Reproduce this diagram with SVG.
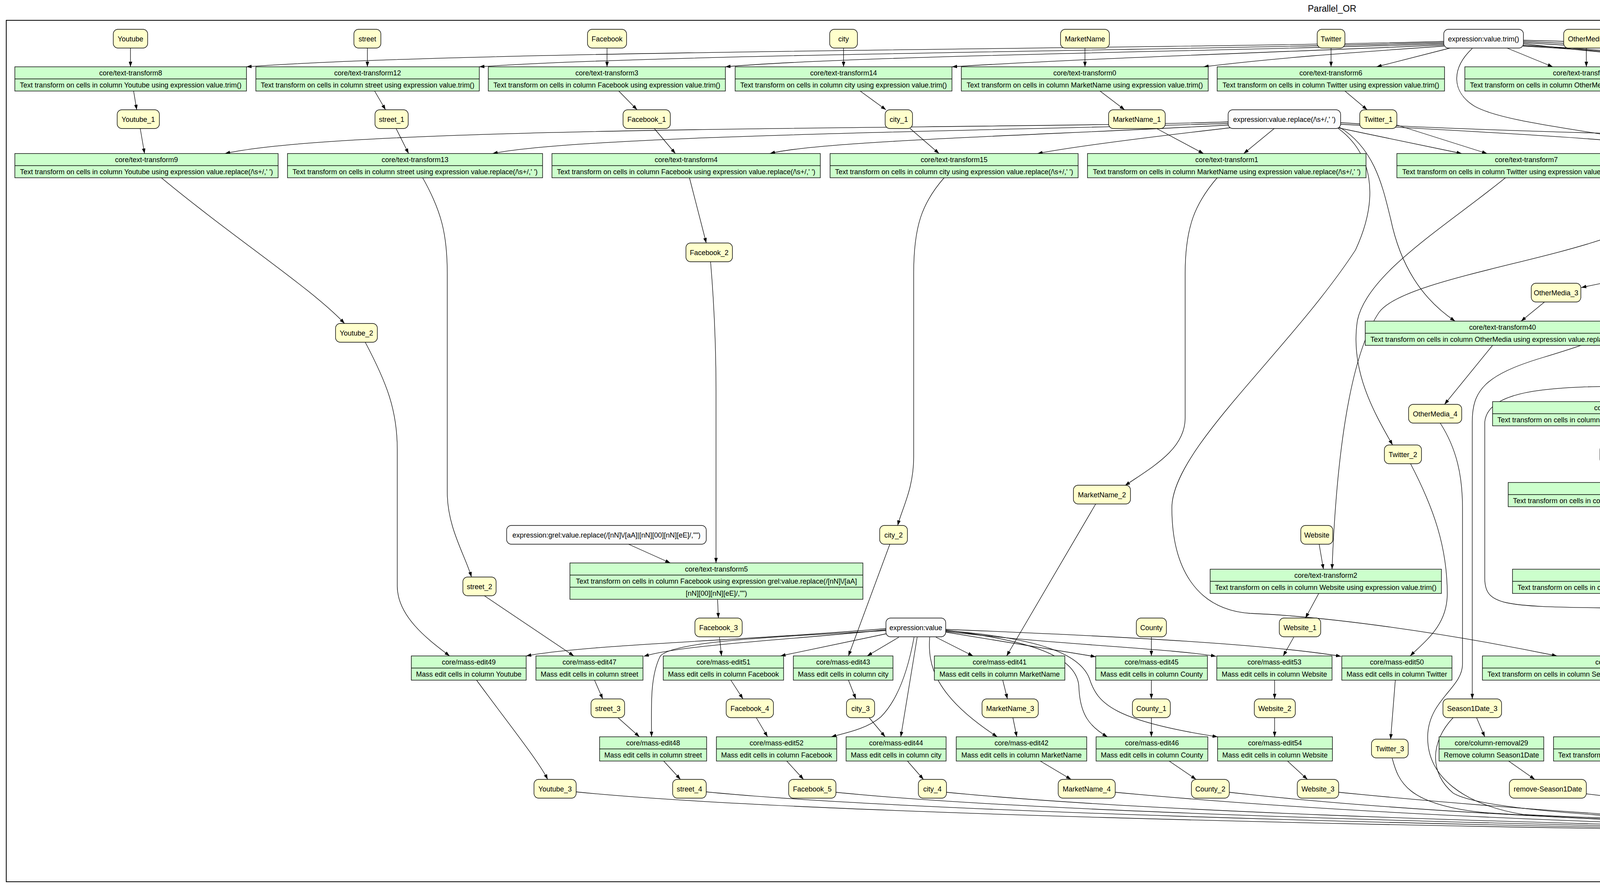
<svg xmlns="http://www.w3.org/2000/svg" width="6820" height="2273" viewBox="0 0 6820 2273">
<style>
text{font-family:"Liberation Sans",Arial,sans-serif;font-size:18px;text-anchor:middle;fill:#000}
.title{font-size:23px}
.y{fill:#ffffcc;stroke:#000;stroke-width:1.4}
.w{fill:#fcfcfc;stroke:#000;stroke-width:1.4}
.g{fill:#ccffcc;stroke:#000;stroke-width:1.4}
.d{stroke:#000;stroke-width:1.4;fill:none}
#edges path{fill:none;stroke:#000;stroke-width:1.3;marker-end:url(#ah)}
</style>
<defs>
<marker id="ah" viewBox="0 0 13 9" refX="13" refY="4.5" markerWidth="13" markerHeight="9" markerUnits="userSpaceOnUse" orient="auto"><path d="M0,0L13,4.5L0,9Z" fill="#000"/></marker>
</defs>
<rect width="6820" height="2273" fill="#fff"/>
<text class="title" x="3410" y="30">Parallel_OR</text>
<rect x="16" y="52" width="6788" height="2205" fill="none" stroke="#000" stroke-width="2"/>
<g id="edges">
<path d="M334,123L334,171"/>
<path d="M940.5,123L940.5,171"/>
<path d="M1554,123L1554,171"/>
<path d="M2159.5,123L2159.5,171"/>
<path d="M2777.5,123L2777.5,171"/>
<path d="M3407.5,123L3407.5,171"/>
<path d="M4061,123L4061,171"/>
<path d="M4768.5,123L4768.5,171"/>
<path d="M5386.5,123L5386.5,171"/>
<path d="M5954.5,123L5954.5,171"/>
<path d="M6514.5,123L6514.5,171"/>
<path d="M3697,106C3000,126 1200,128 631,171"/>
<path d="M3697,109C3000,130 1700,138 1227,171"/>
<path d="M3697,112C3100,132 2200,142 1857,171"/>
<path d="M3697,115C3250,135 2800,148 2437,171"/>
<path d="M3697,118C3450,135 3250,150 3081,171"/>
<path d="M3712,123L3524,171"/>
<path d="M3858,123L3975,171"/>
<path d="M3899,112C4100,135 4350,158 4459,171"/>
<path d="M3899,109C4300,135 4800,150 5110,171"/>
<path d="M3899,106C4500,135 5250,145 5684,171"/>
<path d="M3899,103C4800,128 5800,128 6244,171"/>
<path d="M3899,116C4200,132 4375,150 4390,190C4405,240 4470,290 4650,290C4950,288 5030,340 5010,450C4995,520 4700,570 4580,616"/>
<path d="M3899,118C4200,135 4378,152 4393,195C4410,250 4450,298 4800,300C5000,302 5100,312 5200,325C5400,345 5700,335 5770,360C5810,380 5815,480 5850,560C5920,700 5985,750 5985,900C5985,1060 5980,1110 5850,1135C5400,1220 4700,1330 4323,1457"/>
<path d="M3769,124C3715,175 3715,235 3775,272C3860,320 4150,340 4245,375C4300,400 4285,470 4240,540C4150,650 3600,700 3530,800C3450,920 3420,1200 3410,1457"/>
<path d="M342,233L350,281"/>
<path d="M959,233L987,281"/>
<path d="M1584,233L1631,281"/>
<path d="M2202,233L2268,281"/>
<path d="M2816,233L2879,281"/>
<path d="M3443,233L3500,281"/>
<path d="M4160,233L4335,283"/>
<path d="M4954,233L5332,291"/>
<path d="M5483,233L5680,284"/>
<path d="M6215,233C6450,280 6550,330 6545,450C6540,560 6420,605 6333,632"/>
<path d="M6528,233C6560,320 6572,420 6572,500L6572,1080C6572,1150 6520,1205 6380,1252"/>
<path d="M359,329L370,393"/>
<path d="M1014,329L1046,393"/>
<path d="M1675,329L1729,393"/>
<path d="M2330,329L2404,393"/>
<path d="M2961,329L3081,393"/>
<path d="M3576,320L3807,393"/>
<path d="M4452,329L4579,393"/>
<path d="M5403.5,329L5403.5,393"/>
<path d="M3144,312C2500,332 900,320 576,393"/>
<path d="M3144,316C2600,334 1500,345 1261,393"/>
<path d="M3144,320C2700,345 2100,360 1971,393"/>
<path d="M3150,327C2950,350 2750,375 2656,393"/>
<path d="M3262,329L3184,393"/>
<path d="M3420,326L3742,393"/>
<path d="M3432,318C3800,338 4250,360 4405,393"/>
<path d="M3432,314C3900,345 4700,345 5169,393"/>
<path d="M3428,325C3520,380 3540,480 3560,560C3585,680 3640,765 3725,822"/>
<path d="M3425,328C3510,390 3535,500 3470,640C3300,900 3000,1150 3000,1300C3000,1450 3060,1560 3200,1570C3400,1578 3700,1620 3986,1679"/>
<path d="M413,455C600,610 800,740 882,828"/>
<path d="M1082,455C1130,540 1145,600 1145,700L1145,1260C1145,1350 1190,1420 1207,1477"/>
<path d="M1765,455L1808,622"/>
<path d="M2417,455C2360,520 2339,580 2339,700L2339,1170C2339,1250 2310,1300 2298,1345"/>
<path d="M3116,455C3060,520 3034,580 3034,700L3034,1070C3034,1150 2950,1195 2880,1243"/>
<path d="M3854,455C3700,580 3500,700 3475,820C3455,950 3520,1060 3565,1139"/>
<path d="M4620,455L4578,519"/>
<path d="M5406,455L5409,519"/>
<path d="M5746,318L5996,378"/>
<path d="M6180.5,329L6180.5,378"/>
<path d="M6126,470C6060,560 6034,620 6034,700L6034,1140C6034,1205 5950,1250 5803,1265"/>
<path d="M1819,669C1830,800 1833,900 1833,1000L1833,1441"/>
<path d="M1609,1393L1716,1441"/>
<path d="M1837,1534L1839,1582"/>
<path d="M4535,567L4497,616"/>
<path d="M4329,678L4048,736"/>
<path d="M3954,773L3894,822"/>
<path d="M3821,884L3698,1035"/>
<path d="M4970,567L4974,616"/>
<path d="M5131,567L5038,616"/>
<path d="M5336,560L5125,616"/>
<path d="M4979,678L4983,725"/>
<path d="M5044,678L5153,725"/>
<path d="M4802,677C4500,685 4250,690 4225,760C4210,830 4100,870 3950,915C3800,960 3769,1000 3769,1080L3769,1789"/>
<path d="M5350,567C5200,650 5110,690 5100,760C5090,860 4900,910 4500,922C4380,925 4330,986 4200,988C4000,990 3810,990 3801,1080L3801,1480C3801,1550 3850,1552 4100,1556C4400,1562 4560,1610 4625,1740C4700,1900 4725,2000 4742,2092"/>
<path d="M4459,773L4595,822"/>
<path d="M4709,773L4695,822"/>
<path d="M4921,773L4775,822"/>
<path d="M4541,884L4285,938"/>
<path d="M5245,773L5316,822"/>
<path d="M5452,773L5400,822"/>
<path d="M5708,773L5493,822"/>
<path d="M5289,884L5169,932"/>
<path d="M4195,980L4180,1028"/>
<path d="M4473,980L4285,1028"/>
<path d="M4650,980L4829,1028"/>
<path d="M4677,968L5322,1028"/>
<path d="M5070,980L4989,1028"/>
<path d="M5631.5,980L5631.5,1028"/>
<path d="M4173,1090L4182,1139"/>
<path d="M4902,1090L4854,1139"/>
<path d="M5555,1090L5438,1139"/>
<path d="M4191,1187L4201,1235"/>
<path d="M4563,980C4560,1080 4460,1160 4302,1235"/>
<path d="M4206,1297L4206,1345"/>
<path d="M4206,1393L4206,1457"/>
<path d="M4568,980C4585,1100 4590,1300 4590,1500C4595,1720 4500,1800 4397,1886"/>
<path d="M4203,1519L4197,1582"/>
<path d="M4187,1631L4177,1679"/>
<path d="M4192,1741L4228,1789"/>
<path d="M4266,1837L4299,1886"/>
<path d="M4359,1948L4421,1995"/>
<path d="M4527,2044L4694,2092"/>
<path d="M3377,1393L3388,1457"/>
<path d="M3376,1519L3342,1582"/>
<path d="M2268,1609C1900,1640 1500,1650 1347,1679"/>
<path d="M2268,1612C2000,1640 1750,1650 1648,1680"/>
<path d="M2270,1622L1998,1679"/>
<path d="M2301,1631L2220,1679"/>
<path d="M2268,1614C2000,1630 1720,1640 1690,1680C1665,1730 1667,1800 1668,1886"/>
<path d="M2340,1631C2320,1740 2290,1800 2255,1835C2220,1865 2170,1875 2128,1886"/>
<path d="M2348,1631L2306,1886"/>
<path d="M2396,1631L2491,1679"/>
<path d="M2380,1631C2375,1700 2390,1780 2553,1886"/>
<path d="M2421,1618L2805,1681"/>
<path d="M2421,1613C2640,1640 2760,1680 2762,1760C2765,1830 2790,1860 2835,1886"/>
<path d="M2421,1616C2700,1650 3000,1660 3113,1680"/>
<path d="M2421,1614C2680,1635 2770,1680 2790,1740C2810,1800 2850,1845 3117,1886"/>
<path d="M2421,1611C2900,1630 3250,1650 3433,1680"/>
<path d="M935,876C990,980 1017,1050 1017,1150L1017,1500C1017,1580 1100,1640 1151,1679"/>
<path d="M1240,1525L1469,1679"/>
<path d="M1842,1631L1847,1679"/>
<path d="M2278,1393L2172,1679"/>
<path d="M2805,1290L2577,1679"/>
<path d="M2947.5,1631L2947.5,1679"/>
<path d="M3312,1631L3285,1679"/>
<path d="M3611,1187C3670,1300 3705,1400 3705,1520C3705,1600 3650,1640 3610,1679"/>
<path d="M1220,1741C1300,1850 1380,1950 1402,1995"/>
<path d="M1522,1741L1543,1789"/>
<path d="M1582,1837L1637,1886"/>
<path d="M1699,1948L1742,1995"/>
<path d="M1871,1741L1902,1789"/>
<path d="M1936,1837L1965,1886"/>
<path d="M2014,1948L2057,1995"/>
<path d="M2172,1741L2191,1789"/>
<path d="M2225,1837L2266,1886"/>
<path d="M2323,1948L2364,1995"/>
<path d="M2567,1741L2579,1789"/>
<path d="M2593,1837L2603,1886"/>
<path d="M2663,1948L2742,1995"/>
<path d="M2947.5,1741L2947.5,1789"/>
<path d="M2947.5,1837L2947.5,1886"/>
<path d="M2993,1948L3062,1995"/>
<path d="M3263,1741L3263,1789"/>
<path d="M3263,1837L3263,1886"/>
<path d="M3296,1948L3347,1995"/>
<path d="M3572,1741L3560,1892"/>
<path d="M3780,1837L3801,1886"/>
<path d="M3862,1948L3929,1995"/>
<path d="M5005,1837L5027,1886"/>
<path d="M5036,1948L5029,1995"/>
<path d="M5301,1837L5335,1886"/>
<path d="M5358,1948L5351,1995"/>
<path d="M5621,1837L5657,1886"/>
<path d="M5679,1948L5672,1995"/>
<path d="M5944,1837L5978,1886"/>
<path d="M6001,1948L5994,1995"/>
<path d="M6265,1837L6301,1886"/>
<path d="M6322,1948L6315,1995"/>
<path d="M6588,1837L6621,1886"/>
<path d="M6643,1948L6635,1995"/>
<path d="M4948,1837C4890,1900 4875,1960 4870,2000C4865,2050 4840,2070 4818,2092"/>
<path d="M5257,1837C5200,1930 5215,2015 5130,2055C5040,2090 4960,2096 4913,2098"/>
<path d="M5576,1837C5510,1920 5505,2000 5445,2058C5360,2100 5100,2104 4913,2104"/>
<path d="M5899,1837C5840,1930 5835,2020 5745,2062C5550,2110 5100,2110 4913,2110"/>
<path d="M6219,1837C6160,1930 6155,2030 6050,2070C5800,2115 5200,2116 4913,2116"/>
<path d="M6541,1837C6480,1930 6475,2030 6365,2074C6100,2122 5300,2122 4913,2122"/>
<path d="M4962,2044L4842,2092"/>
<path d="M5246,2038L4915,2093"/>
<path d="M5566,2040C5300,2070 5050,2090 4913,2100"/>
<path d="M5889,2040C5500,2080 5100,2102 4913,2107"/>
<path d="M6209,2040C5800,2085 5200,2110 4913,2113"/>
<path d="M6531,2040C6100,2090 5300,2118 4913,2119"/>
<path d="M1475,2027C2000,2080 3500,2115 4635,2128"/>
<path d="M1808,2027C2300,2075 3600,2112 4635,2126"/>
<path d="M2140,2028C2600,2075 3700,2108 4635,2124"/>
<path d="M2423,2028C2900,2075 3800,2105 4635,2122"/>
<path d="M2855,2028C3300,2070 3900,2102 4635,2120"/>
<path d="M3147,2028C3500,2068 4000,2098 4635,2117"/>
<path d="M3427,2028C3800,2065 4200,2093 4635,2114"/>
<path d="M3564,1941C3580,2000 3600,2060 3800,2080C4100,2100 4400,2108 4635,2111"/>
<path d="M3720,1837C3660,1900 3660,1980 3720,2030C3800,2080 4300,2102 4635,2108"/>
<path d="M3687,1083C3730,1150 3744,1220 3744,1300L3744,1700C3744,1760 3660,1790 3655,1880C3650,1990 3750,2060 3900,2085C4200,2100 4450,2103 4635,2105"/>
<path d="M4061,2032L4635,2100"/>
<path d="M4785,1187C4720,1300 4705,1400 4705,1550C4705,1800 4735,1950 4752,2092"/>
<path d="M5309,1172C5000,1230 4800,1260 4770,1380C4755,1450 4762,1800 4764,2092"/>
<path d="M5732,1269C5400,1300 5000,1290 4850,1330C4790,1360 4778,1450 4778,1550L4776,2092"/>
<path d="M6270,668C6140,730 6078,800 6072,900L6064,1100C6050,1200 5950,1280 5700,1312C5200,1360 4860,1345 4815,1450C4795,1520 4790,1800 4788,2092"/>
<path d="M6310,1272C5800,1350 5300,1400 5000,1450C4830,1480 4805,1550 4802,1700L4800,2092"/>
<path d="M5478,310C5600,320 5740,330 5782,362C5825,395 5830,480 5865,560C5935,700 6008,750 6008,900C6008,1085 5950,1125 5850,1145C5400,1235 4900,1300 4845,1400C4825,1450 4815,1700 4813,2092"/>
<path d="M4773,2140L4773,2188"/>
</g>
<g id="n-Youtube"><rect class="y" rx="12" x="290" y="75" width="88" height="48"/><text x="334" y="105.5">Youtube</text></g>
<g id="n-street"><rect class="y" rx="12" x="906" y="75" width="69" height="48"/><text x="940.5" y="105.5">street</text></g>
<g id="n-Facebook"><rect class="y" rx="12" x="1504" y="75" width="100" height="48"/><text x="1554" y="105.5">Facebook</text></g>
<g id="n-city"><rect class="y" rx="12" x="2124" y="75" width="71" height="48"/><text x="2159.5" y="105.5">city</text></g>
<g id="n-MarketName"><rect class="y" rx="12" x="2715" y="75" width="125" height="48"/><text x="2777.5" y="105.5">MarketName</text></g>
<g id="n-Twitter"><rect class="y" rx="12" x="3372" y="75" width="71" height="48"/><text x="3407.5" y="105.5">Twitter</text></g>
<g id="n-exprTrim"><rect class="w" rx="12" x="3696" y="75" width="204" height="48"/><text x="3798" y="105.5">expression:value.trim()</text></g>
<g id="n-OtherMedia"><rect class="y" rx="12" x="4003" y="75" width="116" height="48"/><text x="4061" y="105.5">OtherMedia</text></g>
<g id="n-Season1Date"><rect class="y" rx="12" x="4704" y="75" width="129" height="48"/><text x="4768.5" y="105.5">Season1Date</text></g>
<g id="n-zip"><rect class="y" rx="12" x="5351" y="75" width="71" height="48"/><text x="5386.5" y="105.5">zip</text></g>
<g id="n-y"><rect class="y" rx="12" x="5919" y="75" width="71" height="48"/><text x="5954.5" y="105.5">y</text></g>
<g id="n-x"><rect class="y" rx="12" x="6479" y="75" width="71" height="48"/><text x="6514.5" y="105.5">x</text></g>
<g id="n-t8"><rect class="g" x="38" y="171" width="593" height="62"/><path class="d" d="M38,202H631"/><text x="334.5" y="193">core/text-transform8</text><text x="334.5" y="224">Text transform on cells in column Youtube using expression value.trim()</text></g>
<g id="n-t12"><rect class="g" x="655" y="171" width="572" height="62"/><path class="d" d="M655,202H1227"/><text x="941" y="193">core/text-transform12</text><text x="941" y="224">Text transform on cells in column street using expression value.trim()</text></g>
<g id="n-t3"><rect class="g" x="1250" y="171" width="607" height="62"/><path class="d" d="M1250,202H1857"/><text x="1553.5" y="193">core/text-transform3</text><text x="1553.5" y="224">Text transform on cells in column Facebook using expression value.trim()</text></g>
<g id="n-t14"><rect class="g" x="1882" y="171" width="555" height="62"/><path class="d" d="M1882,202H2437"/><text x="2159.5" y="193">core/text-transform14</text><text x="2159.5" y="224">Text transform on cells in column city using expression value.trim()</text></g>
<g id="n-t0"><rect class="g" x="2461" y="171" width="632" height="62"/><path class="d" d="M2461,202H3093"/><text x="2777" y="193">core/text-transform0</text><text x="2777" y="224">Text transform on cells in column MarketName using expression value.trim()</text></g>
<g id="n-t6"><rect class="g" x="3116" y="171" width="582" height="62"/><path class="d" d="M3116,202H3698"/><text x="3407" y="193">core/text-transform6</text><text x="3407" y="224">Text transform on cells in column Twitter using expression value.trim()</text></g>
<g id="n-t10"><rect class="g" x="3750" y="171" width="622" height="62"/><path class="d" d="M3750,202H4372"/><text x="4061" y="193">core/text-transform10</text><text x="4061" y="224">Text transform on cells in column OtherMedia using expression value.trim()</text></g>
<g id="n-t18"><rect class="g" x="4451" y="171" width="636" height="62"/><path class="d" d="M4451,202H5087"/><text x="4769" y="193">core/text-transform18</text><text x="4769" y="224">Text transform on cells in column Season1Date using expression value.trim()</text></g>
<g id="n-t16"><rect class="g" x="5112" y="171" width="549" height="62"/><path class="d" d="M5112,202H5661"/><text x="5386.5" y="193">core/text-transform16</text><text x="5386.5" y="224">Text transform on cells in column zip using expression value.trim()</text></g>
<g id="n-t37"><rect class="g" x="5686" y="171" width="536" height="62"/><path class="d" d="M5686,202H6222"/><text x="5954" y="193">core/text-transform37</text><text x="5954" y="224">Text transform on cells in column y using expression value.trim()</text></g>
<g id="n-t36"><rect class="g" x="6246" y="171" width="536" height="62"/><path class="d" d="M6246,202H6782"/><text x="6514" y="193">core/text-transform36</text><text x="6514" y="224">Text transform on cells in column x using expression value.trim()</text></g>
<g id="n-Youtube_1"><rect class="y" rx="12" x="300" y="281" width="108" height="48"/><text x="354" y="311.5">Youtube_1</text></g>
<g id="n-street_1"><rect class="y" rx="12" x="960" y="281" width="85" height="48"/><text x="1002.5" y="311.5">street_1</text></g>
<g id="n-Facebook_1"><rect class="y" rx="12" x="1595" y="281" width="121" height="48"/><text x="1655.5" y="311.5">Facebook_1</text></g>
<g id="n-city_1"><rect class="y" rx="12" x="2266" y="281" width="70" height="48"/><text x="2301" y="311.5">city_1</text></g>
<g id="n-MarketName_1"><rect class="y" rx="12" x="2838" y="281" width="145" height="48"/><text x="2910.5" y="311.5">MarketName_1</text></g>
<g id="n-exprReplace"><rect class="w" rx="12" x="3144" y="281" width="288" height="48"/><text x="3288" y="311.5">expression:value.replace(/\s+/,' ')</text></g>
<g id="n-Twitter_1"><rect class="y" rx="12" x="3481" y="281" width="95" height="48"/><text x="3528.5" y="311.5">Twitter_1</text></g>
<g id="n-OtherMedia_1"><rect class="y" rx="12" x="4333" y="281" width="138" height="48"/><text x="4402" y="311.5">OtherMedia_1</text></g>
<g id="n-Season1Date_1"><rect class="y" rx="12" x="5329" y="281" width="149" height="48"/><text x="5403.5" y="311.5">Season1Date_1</text></g>
<g id="n-zip_1"><rect class="y" rx="12" x="5676" y="281" width="70" height="48"/><text x="5711" y="311.5">zip_1</text></g>
<g id="n-grelZip"><rect class="w" rx="12" x="5943" y="281" width="475" height="48"/><text x="6180.5" y="311.5">expression:grel:value.replace(/^\d{1,4}$|^\d{5}-\d{5,}$/,"")</text></g>
<g id="n-t9"><rect class="g" x="38" y="393" width="674" height="62"/><path class="d" d="M38,424H712"/><text x="375" y="415">core/text-transform9</text><text x="375" y="446">Text transform on cells in column Youtube using expression value.replace(/\s+/,' ')</text></g>
<g id="n-t13"><rect class="g" x="736" y="393" width="653" height="62"/><path class="d" d="M736,424H1389"/><text x="1062.5" y="415">core/text-transform13</text><text x="1062.5" y="446">Text transform on cells in column street using expression value.replace(/\s+/,' ')</text></g>
<g id="n-t4"><rect class="g" x="1413" y="393" width="687" height="62"/><path class="d" d="M1413,424H2100"/><text x="1756.5" y="415">core/text-transform4</text><text x="1756.5" y="446">Text transform on cells in column Facebook using expression value.replace(/\s+/,' ')</text></g>
<g id="n-t15"><rect class="g" x="2125" y="393" width="635" height="62"/><path class="d" d="M2125,424H2760"/><text x="2442.5" y="415">core/text-transform15</text><text x="2442.5" y="446">Text transform on cells in column city using expression value.replace(/\s+/,' ')</text></g>
<g id="n-t1"><rect class="g" x="2784" y="393" width="713" height="62"/><path class="d" d="M2784,424H3497"/><text x="3140.5" y="415">core/text-transform1</text><text x="3140.5" y="446">Text transform on cells in column MarketName using expression value.replace(/\s+/,' ')</text></g>
<g id="n-t7"><rect class="g" x="3576" y="393" width="663" height="62"/><path class="d" d="M3576,424H4239"/><text x="3907.5" y="415">core/text-transform7</text><text x="3907.5" y="446">Text transform on cells in column Twitter using expression value.replace(/\s+/,' ')</text></g>
<g id="n-t11"><rect class="g" x="4290" y="393" width="704" height="62"/><path class="d" d="M4290,424H4994"/><text x="4642" y="415">core/text-transform11</text><text x="4642" y="446">Text transform on cells in column OtherMedia using expression value.replace(/\s+/,' ')</text></g>
<g id="n-t19"><rect class="g" x="5045" y="393" width="717" height="62"/><path class="d" d="M5045,424H5762"/><text x="5403.5" y="415">core/text-transform19</text><text x="5403.5" y="446">Text transform on cells in column Season1Date using expression value.replace(/\s+/,' ')</text></g>
<g id="n-t17"><rect class="g" x="5840" y="378" width="682" height="92"/><path class="d" d="M5840,408H6522M5840,439H6522"/><text x="6181" y="399.5">core/text-transform17</text><text x="6181" y="430">Text transform on cells in column zip using expression grel:value.replace(/^\d{1,4}$</text><text x="6181" y="461">^\d{5}-\d{5,}$/,"")</text></g>
<g id="n-OtherMedia_2"><rect class="y" rx="12" x="4488" y="519" width="134" height="48"/><text x="4555" y="549.5">OtherMedia_2</text></g>
<g id="n-separator"><rect class="w" rx="12" x="4910" y="519" width="115" height="48"/><text x="4967.5" y="549.5">separator:to</text></g>
<g id="n-removeOriginal"><rect class="w" rx="12" x="5052" y="519" width="257" height="48"/><text x="5180.5" y="549.5">removeOriginalColumn:False</text></g>
<g id="n-Season1Date_2"><rect class="y" rx="12" x="5336" y="519" width="148" height="48"/><text x="5410" y="549.5">Season1Date_2</text></g>
<g id="n-Facebook_2"><rect class="y" rx="12" x="1756" y="622" width="119" height="48"/><text x="1815.5" y="652.5">Facebook_2</text></g>
<g id="n-y_1"><rect class="y" rx="12" x="6261" y="622" width="70" height="48"/><text x="6296" y="652.5">y_1</text></g>
<g id="n-Youtube_2"><rect class="y" rx="12" x="859" y="828" width="107" height="48"/><text x="912.5" y="858.5">Youtube_2</text></g>
<g id="n-t39"><rect class="g" x="4158" y="616" width="622" height="62"/><path class="d" d="M4158,647H4780"/><text x="4469" y="638">core/text-transform39</text><text x="4469" y="669">Text transform on cells in column OtherMedia using expression value.trim()</text></g>
<g id="n-split20"><rect class="g" x="4804" y="616" width="340" height="62"/><path class="d" d="M4804,647H5144"/><text x="4974" y="638">core/column-split20</text><text x="4974" y="669">Split column Season1Date by separator</text></g>
<g id="n-OtherMedia_3"><rect class="y" rx="12" x="3920" y="725" width="127" height="48"/><text x="3983.5" y="755.5">OtherMedia_3</text></g>
<g id="n-oldCol2"><rect class="w" rx="12" x="4251" y="725" width="287" height="48"/><text x="4394.5" y="755.5">oldColumnName:Season1Date_2</text></g>
<g id="n-newColEnd"><rect class="w" rx="12" x="4564" y="725" width="311" height="48"/><text x="4719.5" y="755.5">newColumnName:Season1EndDate</text></g>
<g id="n-Season1Date_2_1"><rect class="y" rx="12" x="4904" y="725" width="166" height="48"/><text x="4987" y="755.5">Season1Date_2_1</text></g>
<g id="n-Season1Date_1_1"><rect class="y" rx="12" x="5124" y="725" width="168" height="48"/><text x="5208" y="755.5">Season1Date_1_1</text></g>
<g id="n-newColStart"><rect class="w" rx="12" x="5321" y="725" width="315" height="48"/><text x="5478.5" y="755.5">newColumnName:Season1StartDate</text></g>
<g id="n-oldCol1"><rect class="w" rx="12" x="5664" y="725" width="288" height="48"/><text x="5808" y="755.5">oldColumnName:Season1Date_1</text></g>
<g id="n-t40"><rect class="g" x="3495" y="822" width="703" height="62"/><path class="d" d="M3495,853H4198"/><text x="3846.5" y="844">core/text-transform40</text><text x="3846.5" y="875">Text transform on cells in column OtherMedia using expression value.replace(/\s+/,' ')</text></g>
<g id="n-rename22"><rect class="g" x="4457" y="822" width="451" height="62"/><path class="d" d="M4457,853H4908"/><text x="4682.5" y="844">core/column-rename22</text><text x="4682.5" y="875">Rename column Season1Date 2 to Season1EndDate</text></g>
<g id="n-rename21"><rect class="g" x="5136" y="822" width="455" height="62"/><path class="d" d="M5136,853H5591"/><text x="5363.5" y="844">core/column-rename21</text><text x="5363.5" y="875">Rename column Season1Date 1 to Season1StartDate</text></g>
<g id="n-Season1EndDate"><rect class="y" rx="12" x="4124" y="932" width="162" height="48"/><text x="4205" y="962.5">Season1EndDate</text></g>
<g id="n-exprToDate"><rect class="w" rx="12" x="4451" y="932" width="224" height="48"/><text x="4563" y="962.5">expression:value.toDate()</text></g>
<g id="n-Season1StartDate"><rect class="y" rx="12" x="5027" y="932" width="167" height="48"/><text x="5110.5" y="962.5">Season1StartDate</text></g>
<g id="n-updateTime"><rect class="y" rx="12" x="5573" y="932" width="117" height="48"/><text x="5631.5" y="962.5">updateTime</text></g>
<g id="n-OtherMedia_4"><rect class="y" rx="12" x="3606" y="1035" width="136" height="48"/><text x="3674" y="1065.5">OtherMedia_4</text></g>
<g id="n-t24"><rect class="g" x="3821" y="1028" width="691" height="62"/><path class="d" d="M3821,1059H4512"/><text x="4166.5" y="1050">core/text-transform24</text><text x="4166.5" y="1081">Text transform on cells in column Season1EndDate using expression value.toDate()</text></g>
<g id="n-t23"><rect class="g" x="4589" y="1028" width="696" height="62"/><path class="d" d="M4589,1059H5285"/><text x="4937" y="1050">core/text-transform23</text><text x="4937" y="1081">Text transform on cells in column Season1StartDate using expression value.toDate()</text></g>
<g id="n-t38"><rect class="g" x="5309" y="1028" width="645" height="62"/><path class="d" d="M5309,1059H5954"/><text x="5631.5" y="1050">core/text-transform38</text><text x="5631.5" y="1081">Text transform on cells in column updateTime using expression value.toDate()</text></g>
<g id="n-Twitter_2"><rect class="y" rx="12" x="3544" y="1139" width="95" height="48"/><text x="3591.5" y="1169.5">Twitter_2</text></g>
<g id="n-Season1EndDate_1"><rect class="y" rx="12" x="4096" y="1139" width="181" height="48"/><text x="4186.5" y="1169.5">Season1EndDate_1</text></g>
<g id="n-Season1StartDate_1"><rect class="y" rx="12" x="4730" y="1139" width="187" height="48"/><text x="4823.5" y="1169.5">Season1StartDate_1</text></g>
<g id="n-updateTime_1"><rect class="y" rx="12" x="5309" y="1139" width="138" height="48"/><text x="5378" y="1169.5">updateTime_1</text></g>
<g id="n-t25"><rect class="g" x="3861" y="1235" width="691" height="62"/><path class="d" d="M3861,1266H4552"/><text x="4206.5" y="1257">core/text-transform25</text><text x="4206.5" y="1288">Text transform on cells in column Season1EndDate using expression value.toDate()</text></g>
<g id="n-MarketName_2"><rect class="y" rx="12" x="2748" y="1242" width="146" height="48"/><text x="2821" y="1272.5">MarketName_2</text></g>
<g id="n-zip_2"><rect class="y" rx="12" x="5732" y="1242" width="70" height="48"/><text x="5767" y="1272.5">zip_2</text></g>
<g id="n-x_1"><rect class="y" rx="12" x="6310" y="1242" width="70" height="48"/><text x="6345" y="1272.5">x_1</text></g>
<g id="n-grelFb"><rect class="w" rx="12" x="1297" y="1345" width="511" height="48"/><text x="1552.5" y="1375.5">expression:grel:value.replace(/[nN]\/[aA]|[nN][00][nN][eE]/,"")</text></g>
<g id="n-city_2"><rect class="y" rx="12" x="2252" y="1345" width="71" height="48"/><text x="2287.5" y="1375.5">city_2</text></g>
<g id="n-Website"><rect class="y" rx="12" x="3330" y="1345" width="82" height="48"/><text x="3371" y="1375.5">Website</text></g>
<g id="n-Season1EndDate_2"><rect class="y" rx="12" x="4116" y="1345" width="181" height="48"/><text x="4206.5" y="1375.5">Season1EndDate_2</text></g>
<g id="n-street_2"><rect class="y" rx="12" x="1185" y="1477" width="85" height="48"/><text x="1227.5" y="1507.5">street_2</text></g>
<g id="n-t5"><rect class="g" x="1459" y="1441" width="750" height="93"/><path class="d" d="M1459,1472H2209M1459,1503H2209"/><text x="1834" y="1463">core/text-transform5</text><text x="1834" y="1494">Text transform on cells in column Facebook using expression grel:value.replace(/[nN]\/[aA]</text><text x="1834" y="1525">[nN][00][nN][eE]/,"")</text></g>
<g id="n-t2"><rect class="g" x="3098" y="1457" width="592" height="62"/><path class="d" d="M3098,1488H3690"/><text x="3394" y="1479">core/text-transform2</text><text x="3394" y="1510">Text transform on cells in column Website using expression value.trim()</text></g>
<g id="n-t26"><rect class="g" x="3872" y="1457" width="669" height="62"/><path class="d" d="M3872,1488H4541"/><text x="4206.5" y="1479">core/text-transform26</text><text x="4206.5" y="1510">Text transform on cells in column Season1EndDate using expression value.trim()</text></g>
<g id="n-Facebook_3"><rect class="y" rx="12" x="1779" y="1582" width="121" height="48"/><text x="1839.5" y="1612.5">Facebook_3</text></g>
<g id="n-exprValue"><rect class="w" rx="12" x="2268" y="1582" width="153" height="48"/><text x="2344.5" y="1612.5">expression:value</text></g>
<g id="n-County"><rect class="y" rx="12" x="2909" y="1582" width="77" height="48"/><text x="2947.5" y="1612.5">County</text></g>
<g id="n-Website_1"><rect class="y" rx="12" x="3275" y="1582" width="106" height="48"/><text x="3328" y="1612.5">Website_1</text></g>
<g id="n-Season1EndDate_3"><rect class="y" rx="12" x="4102" y="1582" width="182" height="48"/><text x="4193" y="1612.5">Season1EndDate_3</text></g>
<g id="n-me49"><rect class="g" x="1053" y="1679" width="294" height="62"/><path class="d" d="M1053,1710H1347"/><text x="1200" y="1701">core/mass-edit49</text><text x="1200" y="1732">Mass edit cells in column Youtube</text></g>
<g id="n-me47"><rect class="g" x="1372" y="1679" width="274" height="62"/><path class="d" d="M1372,1710H1646"/><text x="1509" y="1701">core/mass-edit47</text><text x="1509" y="1732">Mass edit cells in column street</text></g>
<g id="n-me51"><rect class="g" x="1698" y="1679" width="308" height="62"/><path class="d" d="M1698,1710H2006"/><text x="1852" y="1701">core/mass-edit51</text><text x="1852" y="1732">Mass edit cells in column Facebook</text></g>
<g id="n-me43"><rect class="g" x="2031" y="1679" width="255" height="62"/><path class="d" d="M2031,1710H2286"/><text x="2158.5" y="1701">core/mass-edit43</text><text x="2158.5" y="1732">Mass edit cells in column city</text></g>
<g id="n-me41"><rect class="g" x="2392" y="1679" width="334" height="62"/><path class="d" d="M2392,1710H2726"/><text x="2559" y="1701">core/mass-edit41</text><text x="2559" y="1732">Mass edit cells in column MarketName</text></g>
<g id="n-me45"><rect class="g" x="2805" y="1679" width="286" height="62"/><path class="d" d="M2805,1710H3091"/><text x="2948" y="1701">core/mass-edit45</text><text x="2948" y="1732">Mass edit cells in column County</text></g>
<g id="n-me53"><rect class="g" x="3115" y="1679" width="295" height="62"/><path class="d" d="M3115,1710H3410"/><text x="3262.5" y="1701">core/mass-edit53</text><text x="3262.5" y="1732">Mass edit cells in column Website</text></g>
<g id="n-me50"><rect class="g" x="3435" y="1679" width="282" height="62"/><path class="d" d="M3435,1710H3717"/><text x="3576" y="1701">core/mass-edit50</text><text x="3576" y="1732">Mass edit cells in column Twitter</text></g>
<g id="n-t27"><rect class="g" x="3795" y="1679" width="749" height="62"/><path class="d" d="M3795,1710H4544"/><text x="4169.5" y="1701">core/text-transform27</text><text x="4169.5" y="1732">Text transform on cells in column Season1EndDate using expression value.replace(/\s+/,' ')</text></g>
<g id="n-street_3"><rect class="y" rx="12" x="1513" y="1789" width="86" height="48"/><text x="1556" y="1819.5">street_3</text></g>
<g id="n-Facebook_4"><rect class="y" rx="12" x="1859" y="1789" width="121" height="48"/><text x="1919.5" y="1819.5">Facebook_4</text></g>
<g id="n-city_3"><rect class="y" rx="12" x="2167" y="1789" width="72" height="48"/><text x="2203" y="1819.5">city_3</text></g>
<g id="n-MarketName_3"><rect class="y" rx="12" x="2514" y="1789" width="144" height="48"/><text x="2586" y="1819.5">MarketName_3</text></g>
<g id="n-County_1"><rect class="y" rx="12" x="2899" y="1789" width="97" height="48"/><text x="2947.5" y="1819.5">County_1</text></g>
<g id="n-Website_2"><rect class="y" rx="12" x="3211" y="1789" width="105" height="48"/><text x="3263.5" y="1819.5">Website_2</text></g>
<g id="n-Season1Date_3"><rect class="y" rx="12" x="3694" y="1789" width="150" height="48"/><text x="3769" y="1819.5">Season1Date_3</text></g>
<g id="n-Season1EndDate_4"><rect class="y" rx="12" x="4157" y="1789" width="181" height="48"/><text x="4247.5" y="1819.5">Season1EndDate_4</text></g>
<g id="n-Season4Time"><rect class="y" rx="12" x="4927" y="1789" width="134" height="48"/><text x="4994" y="1819.5">Season4Time</text></g>
<g id="n-Season4Date"><rect class="y" rx="12" x="5218" y="1789" width="129" height="48"/><text x="5282.5" y="1819.5">Season4Date</text></g>
<g id="n-Season3Time"><rect class="y" rx="12" x="5536" y="1789" width="133" height="48"/><text x="5602.5" y="1819.5">Season3Time</text></g>
<g id="n-Season3Date"><rect class="y" rx="12" x="5860" y="1789" width="130" height="48"/><text x="5925" y="1819.5">Season3Date</text></g>
<g id="n-Season2Time"><rect class="y" rx="12" x="6178" y="1789" width="134" height="48"/><text x="6245" y="1819.5">Season2Time</text></g>
<g id="n-Season2Date"><rect class="y" rx="12" x="6503" y="1789" width="129" height="48"/><text x="6567.5" y="1819.5">Season2Date</text></g>
<g id="n-Twitter_3"><rect class="y" rx="12" x="3511" y="1892" width="94" height="48"/><text x="3558" y="1922.5">Twitter_3</text></g>
<g id="n-me48"><rect class="g" x="1535" y="1886" width="274" height="62"/><path class="d" d="M1535,1917H1809"/><text x="1672" y="1908">core/mass-edit48</text><text x="1672" y="1939">Mass edit cells in column street</text></g>
<g id="n-me52"><rect class="g" x="1834" y="1886" width="308" height="62"/><path class="d" d="M1834,1917H2142"/><text x="1988" y="1908">core/mass-edit52</text><text x="1988" y="1939">Mass edit cells in column Facebook</text></g>
<g id="n-me44"><rect class="g" x="2166" y="1886" width="256" height="62"/><path class="d" d="M2166,1917H2422"/><text x="2294" y="1908">core/mass-edit44</text><text x="2294" y="1939">Mass edit cells in column city</text></g>
<g id="n-me42"><rect class="g" x="2448" y="1886" width="334" height="62"/><path class="d" d="M2448,1917H2782"/><text x="2615" y="1908">core/mass-edit42</text><text x="2615" y="1939">Mass edit cells in column MarketName</text></g>
<g id="n-me46"><rect class="g" x="2806" y="1886" width="286" height="62"/><path class="d" d="M2806,1917H3092"/><text x="2949" y="1908">core/mass-edit46</text><text x="2949" y="1939">Mass edit cells in column County</text></g>
<g id="n-me54"><rect class="g" x="3117" y="1886" width="294" height="62"/><path class="d" d="M3117,1917H3411"/><text x="3264" y="1908">core/mass-edit54</text><text x="3264" y="1939">Mass edit cells in column Website</text></g>
<g id="n-removal29"><rect class="g" x="3684" y="1886" width="268" height="62"/><path class="d" d="M3684,1917H3952"/><text x="3818" y="1908">core/column-removal29</text><text x="3818" y="1939">Remove column Season1Date</text></g>
<g id="n-t28"><rect class="g" x="3977" y="1886" width="690" height="62"/><path class="d" d="M3977,1917H4667"/><text x="4322" y="1908">core/text-transform28</text><text x="4322" y="1939">Text transform on cells in column Season1EndDate using expression value.toDate()</text></g>
<g id="n-removal35"><rect class="g" x="4906" y="1886" width="270" height="62"/><path class="d" d="M4906,1917H5176"/><text x="5041" y="1908">core/column-removal35</text><text x="5041" y="1939">Remove column Season4Time</text></g>
<g id="n-removal34"><rect class="g" x="5229" y="1886" width="267" height="62"/><path class="d" d="M5229,1917H5496"/><text x="5362.5" y="1908">core/column-removal34</text><text x="5362.5" y="1939">Remove column Season4Date</text></g>
<g id="n-removal33"><rect class="g" x="5549" y="1886" width="270" height="62"/><path class="d" d="M5549,1917H5819"/><text x="5684" y="1908">core/column-removal33</text><text x="5684" y="1939">Remove column Season3Time</text></g>
<g id="n-removal32"><rect class="g" x="5871" y="1886" width="268" height="62"/><path class="d" d="M5871,1917H6139"/><text x="6005" y="1908">core/column-removal32</text><text x="6005" y="1939">Remove column Season3Date</text></g>
<g id="n-removal31"><rect class="g" x="6191" y="1886" width="270" height="62"/><path class="d" d="M6191,1917H6461"/><text x="6326" y="1908">core/column-removal31</text><text x="6326" y="1939">Remove column Season2Time</text></g>
<g id="n-removal30"><rect class="g" x="6514" y="1886" width="268" height="62"/><path class="d" d="M6514,1917H6782"/><text x="6648" y="1908">core/column-removal30</text><text x="6648" y="1939">Remove column Season2Date</text></g>
<g id="n-Youtube_3"><rect class="y" rx="12" x="1367" y="1995" width="108" height="48"/><text x="1421" y="2025.5">Youtube_3</text></g>
<g id="n-street_4"><rect class="y" rx="12" x="1722" y="1995" width="86" height="48"/><text x="1765" y="2025.5">street_4</text></g>
<g id="n-Facebook_5"><rect class="y" rx="12" x="2019" y="1995" width="121" height="48"/><text x="2079.5" y="2025.5">Facebook_5</text></g>
<g id="n-city_4"><rect class="y" rx="12" x="2351" y="1995" width="72" height="48"/><text x="2387" y="2025.5">city_4</text></g>
<g id="n-MarketName_4"><rect class="y" rx="12" x="2709" y="1995" width="146" height="48"/><text x="2782" y="2025.5">MarketName_4</text></g>
<g id="n-County_2"><rect class="y" rx="12" x="3050" y="1995" width="97" height="48"/><text x="3098.5" y="2025.5">County_2</text></g>
<g id="n-Website_3"><rect class="y" rx="12" x="3321" y="1995" width="106" height="48"/><text x="3374" y="2025.5">Website_3</text></g>
<g id="n-rmS1D"><rect class="y" rx="12" x="3864" y="1995" width="197" height="48"/><text x="3962.5" y="2025.5">remove-Season1Date</text></g>
<g id="n-Season1EndDate_5"><rect class="y" rx="12" x="4359" y="1995" width="180" height="48"/><text x="4449" y="2025.5">Season1EndDate_5</text></g>
<g id="n-rmS4T"><rect class="y" rx="12" x="4923" y="1995" width="200" height="48"/><text x="5023" y="2025.5">remove-Season4Time</text></g>
<g id="n-rmS4D"><rect class="y" rx="12" x="5246" y="1995" width="198" height="48"/><text x="5345" y="2025.5">remove-Season4Date</text></g>
<g id="n-rmS3T"><rect class="y" rx="12" x="5566" y="1995" width="200" height="48"/><text x="5666" y="2025.5">remove-Season3Time</text></g>
<g id="n-rmS3D"><rect class="y" rx="12" x="5889" y="1995" width="197" height="48"/><text x="5987.5" y="2025.5">remove-Season3Date</text></g>
<g id="n-rmS2T"><rect class="y" rx="12" x="6209" y="1995" width="200" height="48"/><text x="6309" y="2025.5">remove-Season2Time</text></g>
<g id="n-rmS2D"><rect class="y" rx="12" x="6531" y="1995" width="198" height="48"/><text x="6630" y="2025.5">remove-Season2Date</text></g>
<g id="n-Combine"><rect class="g" x="4635" y="2092" width="276" height="48"/><text x="4773" y="2122.5">CombineDataCleaningChanges</text></g>
<g id="n-CleanData"><rect class="y" rx="12" x="4720" y="2188" width="106" height="48"/><text x="4773" y="2218.5">CleanData</text></g>
</svg>
